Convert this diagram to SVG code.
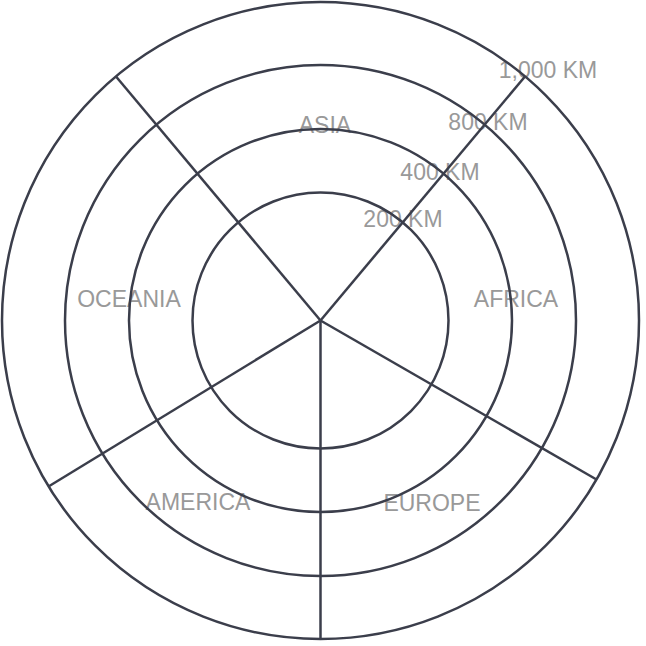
<svg xmlns="http://www.w3.org/2000/svg" width="646" height="646" viewBox="0 0 646 646">
<style>
.lbl{font-family:"Liberation Sans",Arial,sans-serif;font-size:23px;fill:#999999;text-anchor:middle}
.ring{fill:none;stroke:#3b3e4b;stroke-width:2.5}
.spoke{stroke:#3b3e4b;stroke-width:2.5;fill:none}
</style>
<rect width="646" height="646" fill="#ffffff"/>
<g id="labels">
<g id="asia"><text class="lbl" x="325" y="133">ASIA</text></g>
<g id="africa"><text class="lbl" x="516" y="307">AFRICA</text></g>
<g id="europe"><text class="lbl" x="432" y="511">EUROPE</text></g>
<g id="america"><text class="lbl" x="198" y="510">AMERICA</text></g>
<g id="oceania"><text class="lbl" x="129" y="307">OCEANIA</text></g>
<g id="km200"><text class="lbl" x="403" y="227">200 KM</text></g>
<g id="km400"><text class="lbl" x="440" y="180">400 KM</text></g>
<g id="km800"><text class="lbl" x="488" y="130">800 KM</text></g>
<g id="km1000"><text class="lbl" x="548" y="78">1,000 KM</text></g>
</g>
<g id="rings">
<circle class="ring" cx="320.5" cy="320.5" r="128"/>
<circle class="ring" cx="320.5" cy="320.5" r="191.5"/>
<circle class="ring" cx="320.5" cy="320.5" r="255.5"/>
<circle class="ring" cx="320.5" cy="320.5" r="318.5"/>
</g>
<g id="connectors">
<line class="spoke" x1="320.5" y1="320.5" x2="525" y2="76.5"/>
<line class="spoke" x1="320.5" y1="320.5" x2="116" y2="76.5"/>
<line class="spoke" x1="320.5" y1="320.5" x2="596.5" y2="479.5"/>
<line class="spoke" x1="320.5" y1="320.5" x2="320.5" y2="639"/>
<line class="spoke" x1="320.5" y1="320.5" x2="48.5" y2="486.5"/>
</g>
</svg>
